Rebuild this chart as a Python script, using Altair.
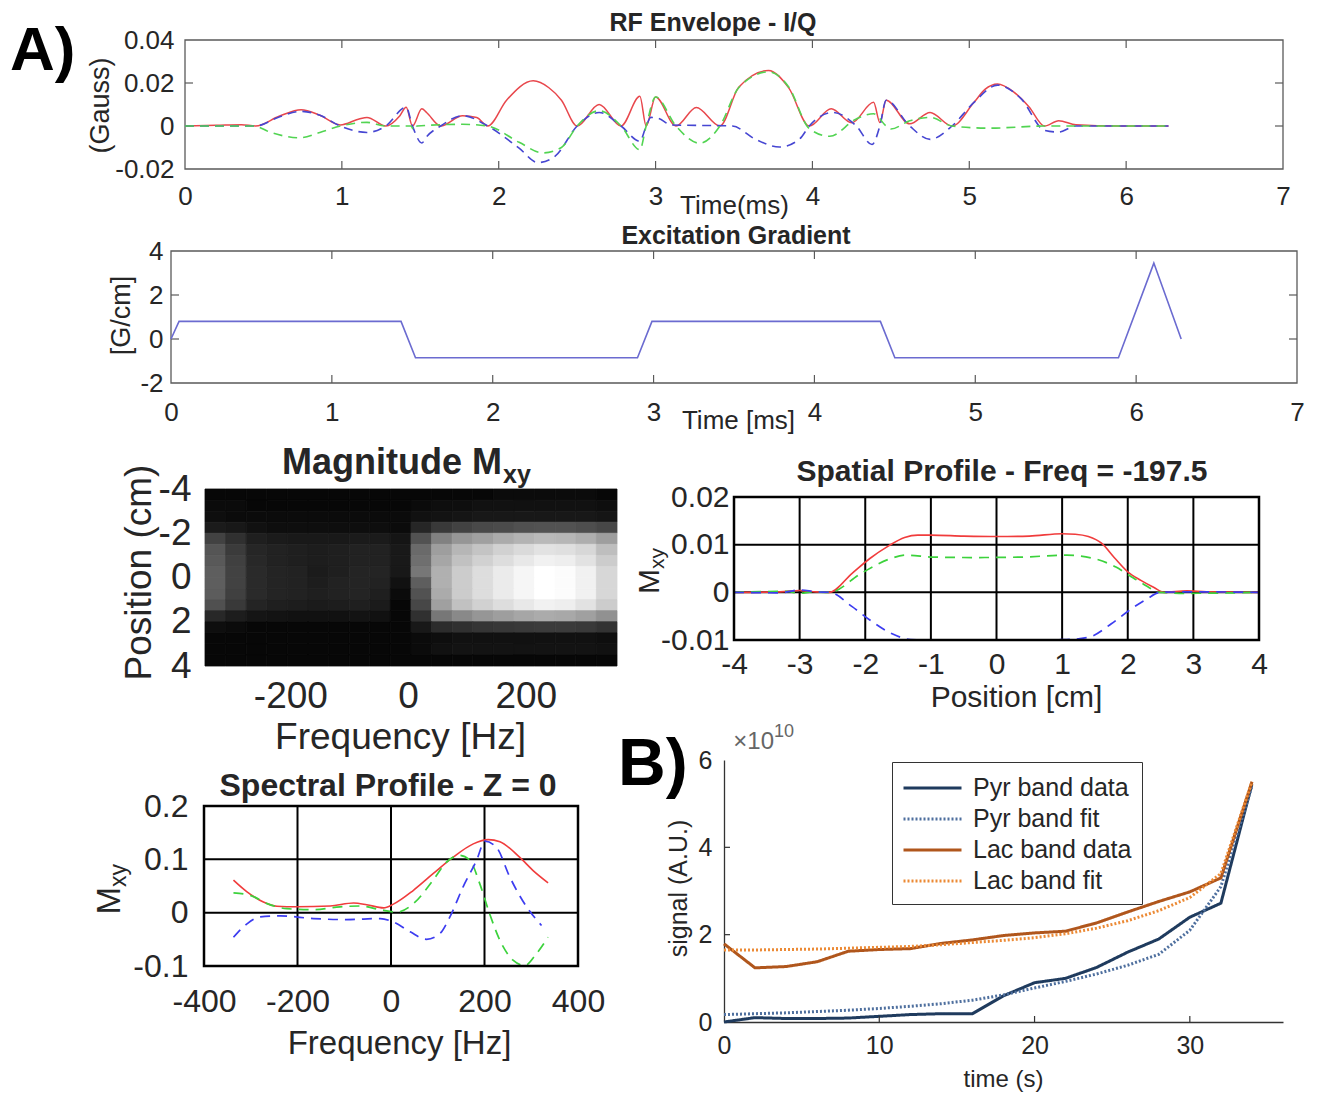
import altair as alt
import pandas as pd

FONT = "Liberation Sans"
TXT = "#262626"
W, H = 1303, 1084

# ======================= DATA =======================
# --- RF envelope (Gauss) vs time (ms) ---
RF_MAG_T = [0.00, 0.20, 0.36, 0.45, 0.60, 0.74, 0.86, 0.99, 1.11, 1.16, 1.28, 1.37, 1.41, 1.45, 1.51, 1.54,
            1.63, 1.77, 1.86, 1.93, 2.05, 2.22, 2.32, 2.40, 2.50, 2.64, 2.78, 2.90, 2.94, 3.00, 3.13, 3.26,
            3.41, 3.53, 3.72, 3.85, 3.98, 4.12, 4.25, 4.39, 4.43, 4.47, 4.62, 4.75, 4.89, 5.03, 5.10, 5.18,
            5.28, 5.38, 5.48, 5.57, 5.68, 5.95, 6.27]
RF_MAG_V = [0.0, 0.0003, 0.0006, 0.0, 0.0045, 0.0076, 0.005, 0.0005, 0.0033, 0.004, 0.0, 0.0048, 0.0087, 0.0,
            0.008, 0.0063, 0.0, 0.0048, 0.004, 0.0, 0.012, 0.021, 0.0178, 0.012, 0.0, 0.01, 0.0, 0.0138, 0.0,
            0.0135, 0.0, 0.0086, 0.0, 0.018, 0.0258, 0.0176, 0.0, 0.008, 0.0015, 0.011, 0.0016, 0.012, 0.001,
            0.0063, 0.0, 0.011, 0.017, 0.0195, 0.016, 0.009, 0.0, 0.0025, 0.0006, 0.0, 0.0]
RF_I_T = [0.00, 0.45, 0.60, 0.74, 0.86, 0.99, 1.16, 1.28, 1.41, 1.45, 1.51, 1.54, 1.63, 1.77, 1.93, 2.13,
          2.25, 2.36, 2.50, 2.64, 2.78, 2.90, 2.94, 2.97, 3.02, 3.10, 3.49, 3.63, 3.79, 3.92, 3.98, 4.13,
          4.28, 4.38, 4.43, 4.47, 4.62, 4.75, 4.89, 5.03, 5.18, 5.33, 5.48, 5.57, 5.68, 6.27]
RF_I_V = [0.0, 0.0, 0.0042, 0.0068, 0.005, 0.0, -0.003, 0.0, 0.0087, 0.0, -0.0079, -0.005, 0.0, 0.0048, 0.0,
          -0.0103, -0.017, -0.014, 0.0, 0.0063, 0.0, -0.0071, 0.0, 0.004, 0.0035, 0.0005, 0.0, -0.0059,
          -0.0098, -0.0059, 0.0, 0.0063, 0.0, -0.0086, 0.0, 0.012, 0.0, -0.0062, 0.0, 0.011, 0.019, 0.0127,
          -0.002, -0.0028, 0.0, 0.0]
RF_Q_T = [0.00, 0.44, 0.54, 0.73, 0.86, 0.99, 1.16, 1.28, 1.44, 1.46, 1.48, 1.77, 1.93, 2.13, 2.28, 2.40,
          2.50, 2.64, 2.78, 2.90, 2.94, 3.00, 3.13, 3.28, 3.41, 3.53, 3.72, 3.85, 3.98, 4.11, 4.28, 4.39,
          4.47, 4.50, 4.62, 4.75, 4.89, 5.13, 5.48, 6.27]
RF_Q_V = [0.0, 0.0, -0.0028, -0.0055, -0.003, 0.0, 0.0017, 0.0, 0.0, -0.002, 0.0, 0.0008, 0.0, -0.0076,
          -0.0125, -0.01, 0.0, 0.0071, 0.0, -0.011, 0.0, 0.0135, 0.0, -0.008, 0.0, 0.0178, 0.0252, 0.018,
          -0.0012, -0.0048, 0.0033, 0.0057, 0.0, -0.0014, 0.0024, 0.004, 0.0, -0.001, 0.0, 0.0]

# --- Excitation gradient (G/cm) vs time (ms) ---
GRAD_T = [0.00, 0.05, 1.43, 1.52, 2.90, 2.99, 4.41, 4.50, 5.89, 6.11, 6.28]
GRAD_V = [0.0, 0.8, 0.8, -0.85, -0.85, 0.8, 0.8, -0.85, -0.85, 3.45, 0.0]

# --- Magnitude Mxy image (0..100 grey level), rows = position bins (top -4 .. bottom 4) ---
HEAT_FREQ_EDGES = [-345, -310, -275, -240, -205, -170, -135, -100, -65, -30, 5, 40, 75, 110, 145, 180,
                   215, 250, 285, 320, 355]
HEAT_POS_EDGES = [-4.0, -3.5, -3.0, -2.5, -2.0, -1.5, -1.0, -0.5, 0.0, 0.5, 1.0, 1.5, 2.0, 2.5, 3.0, 3.5, 4.0]
HEAT_GRID = [
    [2, 2, 2, 2, 2, 2, 2, 2, 2, 2, 2, 2, 2, 2, 3, 3, 3, 3, 3, 2],
    [3, 3, 2, 2, 2, 2, 2, 2, 2, 2, 3, 4, 4, 5, 5, 5, 5, 5, 5, 4],
    [4, 3, 3, 3, 3, 3, 3, 3, 3, 3, 5, 6, 7, 8, 8, 8, 8, 8, 8, 7],
    [10, 8, 5, 4, 4, 4, 4, 4, 4, 3, 15, 24, 28, 31, 32, 34, 35, 35, 33, 30],
    [28, 20, 12, 10, 9, 9, 9, 10, 10, 7, 35, 54, 62, 66, 70, 73, 75, 74, 71, 65],
    [36, 25, 15, 13, 12, 11, 12, 13, 13, 9, 45, 65, 74, 79, 84, 87, 90, 89, 86, 77],
    [38, 27, 16, 13, 12, 11, 12, 13, 13, 9, 47, 68, 78, 84, 88, 92, 95, 94, 90, 82],
    [40, 28, 17, 14, 13, 10, 12, 14, 14, 8, 50, 72, 82, 88, 93, 97, 100, 99, 95, 86],
    [40, 28, 17, 14, 13, 11, 13, 14, 13, 5, 40, 72, 82, 88, 93, 97, 100, 99, 95, 86],
    [39, 27, 17, 14, 13, 12, 13, 14, 12, 3, 35, 70, 82, 88, 93, 97, 100, 99, 95, 86],
    [34, 24, 14, 12, 11, 10, 11, 12, 10, 2, 30, 66, 78, 84, 88, 92, 95, 94, 90, 82],
    [16, 11, 7, 6, 5, 5, 5, 6, 5, 2, 20, 50, 57, 62, 65, 68, 70, 69, 66, 60],
    [4, 3, 2, 2, 2, 2, 2, 2, 2, 2, 8, 18, 20, 22, 23, 24, 25, 25, 24, 21],
    [2, 2, 2, 2, 2, 2, 2, 2, 2, 2, 3, 4, 5, 5, 5, 5, 5, 5, 5, 4],
    [2, 2, 2, 2, 2, 2, 2, 2, 2, 2, 3, 5, 6, 6, 6, 6, 6, 6, 6, 5],
    [2, 2, 2, 2, 2, 2, 2, 2, 2, 2, 2, 2, 2, 2, 2, 2, 2, 2, 2, 2],
]

# --- Spatial profile (Freq = -197.5) ---
SPAT_POS_R = [-4.0, -3.3, -3.0, -2.75, -2.55, -2.2, -1.93, -1.65, -1.4, -1.2, -1.0, -0.5, 0.0, 0.5, 1.0,
              1.2, 1.4, 1.6, 1.8, 2.0, 2.2, 2.4, 2.55, 2.9, 3.2, 4.0]
SPAT_RED = [0.0, 0.0001, 0.0004, 0.0001, 0.0, 0.004, 0.0071, 0.0097, 0.0115, 0.012, 0.012, 0.0118, 0.0117,
            0.0118, 0.0123, 0.0122, 0.0117, 0.0103, 0.0072, 0.0043, 0.0025, 0.001, 0.0, 0.0003, 0.0001, 0.0]
SPAT_POS_G = [-4.0, -3.2, -3.0, -2.8, -2.55, -2.06, -1.65, -1.38, -0.97, -0.29, 0.39, 1.07, 1.48, 1.82,
              2.02, 2.22, 2.5, 2.9, 4.0]
SPAT_GREEN = [0.0, 0.0002, -0.0002, 0.0001, 0.0, 0.004, 0.0069, 0.0078, 0.0074, 0.0073, 0.0074, 0.0078,
              0.0071, 0.0053, 0.0036, 0.0019, 0.0, -0.0002, 0.0]
SPAT_POS_B = [-4.0, -3.3, -3.0, -2.75, -2.54, -2.2, -1.93, -1.59, -1.31, -0.97, 0.39, 1.07, 1.41, 1.75,
              2.02, 2.29, 2.5, 3.0, 4.0]
SPAT_BLUE = [0.0, -0.0001, 0.0005, 0.0001, 0.0, -0.003, -0.0058, -0.0087, -0.0099, -0.01, -0.01, -0.0099,
             -0.0094, -0.0066, -0.0038, -0.0014, 0.0, 0.0001, 0.0]

# --- Spectral profile (Z = 0) ---
SPEC_F_R = [-337, -308, -273, -244, -201, -130, -80, -52, -16, 5, 48, 90, 133, 176, 208, 233, 275, 304, 336]
SPEC_RED = [0.061, 0.039, 0.02, 0.012, 0.011, 0.0125, 0.018, 0.015, 0.009, 0.016, 0.042, 0.073, 0.104,
            0.129, 0.137, 0.133, 0.104, 0.079, 0.056]
SPEC_F_G = [-337, -301, -265, -223, -166, -109, -66, -23, 12, 48, 90, 119, 147, 169, 190, 211, 233, 261,
            286, 311, 336]
SPEC_GREEN = [0.037, 0.0325, 0.017, 0.0075, 0.0056, 0.011, 0.0125, 0.0056, 0.001, 0.017, 0.061, 0.095,
              0.1075, 0.098, 0.054, -0.002, -0.052, -0.089, -0.099, -0.077, -0.046]
SPEC_F_B = [-337, -308, -280, -237, -166, -95, -23, 5, 41, 76, 105, 126, 154, 183, 201, 226, 254, 290, 322]
SPEC_BLUE = [-0.046, -0.021, -0.008, -0.006, -0.011, -0.013, -0.011, -0.0175, -0.036, -0.05, -0.039,
             -0.008, 0.048, 0.098, 0.134, 0.122, 0.067, 0.011, -0.024]

# --- B) signal (x1e10 A.U.) vs time (s) ---
B_TIME = [0, 2, 4, 6, 8, 10, 12, 14, 16, 18, 20, 22, 24, 26, 28, 30, 32, 34]
PYR_DATA = [0.0, 0.1, 0.08, 0.08, 0.09, 0.13, 0.17, 0.19, 0.19, 0.6, 0.9, 1.0, 1.25, 1.6, 1.9, 2.4, 2.72, 5.45]
PYR_FIT = [0.17, 0.19, 0.21, 0.24, 0.27, 0.31, 0.36, 0.42, 0.5, 0.62, 0.78, 0.93, 1.1, 1.3, 1.55, 2.1, 3.1, 5.4]
LAC_DATA = [1.79, 1.24, 1.27, 1.38, 1.62, 1.66, 1.68, 1.8, 1.88, 1.98, 2.04, 2.08, 2.27, 2.52, 2.76, 2.98, 3.3, 5.5]
LAC_FIT = [1.65, 1.65, 1.66, 1.67, 1.69, 1.71, 1.73, 1.77, 1.82, 1.87, 1.93, 2.02, 2.15, 2.32, 2.55, 2.85, 3.4, 5.5]
B_SERIES = ["Pyr band data", "Pyr band fit", "Lac band data", "Lac band fit"]

# --- tick values / domains ---
RF_XDOM, RF_YDOM = [0, 7], [-0.02, 0.04]
RF_XT, RF_YT = [0, 1, 2, 3, 4, 5, 6, 7], [-0.02, 0, 0.02, 0.04]
GR_XDOM, GR_YDOM = [0, 7], [-2, 4]
GR_XT, GR_YT = [0, 1, 2, 3, 4, 5, 6, 7], [-2, 0, 2, 4]
HM_XDOM, HM_YDOM = [-345, 355], [-4, 4]
HM_XT, HM_YT = [-200, 0, 200], [-4, -2, 0, 2, 4]
SP_XDOM, SP_YDOM = [-4, 4], [-0.01, 0.02]
SP_XT, SP_YT = [-4, -3, -2, -1, 0, 1, 2, 3, 4], [-0.01, 0, 0.01, 0.02]
SC_XDOM, SC_YDOM = [-400, 400], [-0.1, 0.2]
SC_XT, SC_YT = [-400, -200, 0, 200, 400], [-0.1, 0, 0.1, 0.2]
B_XDOM, B_YDOM = [0, 36], [0, 6]
B_XT, B_YT = [0, 10, 20, 30], [0, 2, 4, 6]

# ======================= LAYOUT (pixel ranges of each panel) =======================
RF_XR, RF_YR = [177, 1275], [161, 32]
GR_XR, GR_YR = [163, 1289], [375, 243]
HM_XR, HM_YR = [197, 609], [481, 658]
SP_XR, SP_YR = [726, 1251], [632, 489]
SC_XR, SC_YR = [196, 570], [958, 798]
B_XR, B_YR = [716, 1275], [1014, 752]

RED, BLUE, GREEN = "#e8474c", "#4646d2", "#52d452"
RED2, BLUE2, GREEN2 = "#f03c3c", "#3c3cf0", "#3cd23c"


def scale(domain, rng):
    return alt.Scale(domain=domain, range=rng, nice=False, zero=False)


def x_axis(bottom, values, fs, pad, title, tx, ty, tfs, domain=False):
    return alt.Axis(orient="bottom", offset=bottom - H, values=values, labelExpr="'' + datum.value",
                    labelFont=FONT, labelFontSize=fs, labelColor=TXT, labelPadding=pad,
                    labelOverlap=False, labelFlush=False, ticks=False, grid=False,
                    domain=domain, domainColor="#333333", domainWidth=1.3,
                    title=title, titleFont=FONT, titleFontSize=tfs, titleFontWeight="normal",
                    titleColor=TXT, titleX=tx, titleY=ty, titleAlign="center",
                    titleBaseline="middle", titleAngle=0)


def y_axis(left, values, fs, pad, title, tx, ty, tfs, domain=False):
    return alt.Axis(orient="left", offset=-left, values=values, labelExpr="'' + datum.value",
                    labelFont=FONT, labelFontSize=fs, labelColor=TXT, labelPadding=pad,
                    labelOverlap=False, labelFlush=False, ticks=False, grid=False,
                    domain=domain, domainColor="#333333", domainWidth=1.3,
                    title=title, titleFont=FONT, titleFontSize=tfs, titleFontWeight="normal",
                    titleColor=TXT, titleX=tx, titleY=ty, titleAlign="center",
                    titleBaseline="middle", titleAngle=270)


class Panel:
    """Shared scales and axes for every layer of one panel."""

    def __init__(self, xs, ys, xa, ya):
        self.xs, self.ys, self.xa, self.ya = xs, ys, xa, ya

    def X(self, f):
        return alt.X(f, scale=self.xs, axis=self.xa)

    def Y(self, f):
        return alt.Y(f, scale=self.ys, axis=self.ya)

    def XD(self, d):
        return alt.XDatum(d, scale=self.xs, axis=self.xa)

    def YD(self, d):
        return alt.YDatum(d, scale=self.ys, axis=self.ya)

    def line(self, xv, yv, color, dash=None, width=1.5, interp="monotone"):
        df = pd.DataFrame({"x": xv, "y": yv})
        kw = dict(color=color, strokeWidth=width, interpolate=interp)
        if dash:
            kw["strokeDash"] = dash
        return alt.Chart(df).mark_line(**kw).encode(x=self.X("x:Q"), y=self.Y("y:Q"))

    def frame(self, xdom, ydom, color, width):
        df = pd.DataFrame({"x0": [xdom[0]], "x1": [xdom[1]], "y0": [ydom[0]], "y1": [ydom[1]]})
        return alt.Chart(df).mark_rect(fillOpacity=0, stroke=color, strokeWidth=width).encode(
            x=self.X("x0:Q"), x2="x1:Q", y=self.Y("y0:Q"), y2="y1:Q")

    def grid(self, xvals, yvals, xdom, ydom, color, width):
        v = alt.Chart(pd.DataFrame({"v": xvals})).mark_rule(color=color, strokeWidth=width).encode(
            x=self.X("v:Q"), y=self.YD(ydom[0]), y2=alt.Y2Datum(ydom[1]))
        h = alt.Chart(pd.DataFrame({"v": yvals})).mark_rule(color=color, strokeWidth=width).encode(
            y=self.Y("v:Q"), x=self.XD(xdom[0]), x2=alt.X2Datum(xdom[1]))
        return [v, h]

    def ticks(self, xvals, yvals, xdom, ydom, color, length, sides="lrtb"):
        size = (2 * length) ** 2
        out = []
        dx = pd.DataFrame({"v": xvals})
        dy = pd.DataFrame({"v": yvals})
        common = dict(size=size, filled=False, color=color, strokeWidth=1.2, opacity=1)
        if "b" in sides:
            out.append(alt.Chart(dx).mark_point(shape="M0,0V-1", **common).encode(
                x=self.X("v:Q"), y=self.YD(ydom[0])))
        if "t" in sides:
            out.append(alt.Chart(dx).mark_point(shape="M0,0V1", **common).encode(
                x=self.X("v:Q"), y=self.YD(ydom[1])))
        if "l" in sides:
            out.append(alt.Chart(dy).mark_point(shape="M0,0H1", **common).encode(
                y=self.Y("v:Q"), x=self.XD(xdom[0])))
        if "r" in sides:
            out.append(alt.Chart(dy).mark_point(shape="M0,0H-1", **common).encode(
                y=self.Y("v:Q"), x=self.XD(xdom[1])))
        return out


def label(text, x, y, size, weight="normal", align="center", baseline="middle", angle=0,
          color=TXT, dy=0):
    kw = dict(fontSize=size, font=FONT, fontWeight=weight, align=align, baseline=baseline, color=color)
    if angle:
        kw["angle"] = angle
    if dy:
        kw["dy"] = dy
    return alt.Chart(pd.DataFrame({"label": [text]})).mark_text(**kw).encode(
        x=alt.value(x), y=alt.value(y), text="label:N")


# ======================= PANEL: RF envelope =======================
p = Panel(scale(RF_XDOM, RF_XR), scale(RF_YDOM, RF_YR),
          x_axis(RF_YR[0], RF_XT, 26, 14, "Time(ms)", 726, 36, 26),
          y_axis(RF_XR[0], RF_YT, 26, 11, "(Gauss)", -85, 97, 27))
rf_panel = alt.layer(
    p.frame(RF_XDOM, RF_YDOM, "#5a5a5a", 1.3),
    *p.ticks(RF_XT[1:-1], RF_YT[1:-1], RF_XDOM, RF_YDOM, "#5a5a5a", 8),
    p.line(RF_MAG_T, RF_MAG_V, RED, width=1.5),
    p.line(RF_I_T, RF_I_V, BLUE, dash=[9, 6], width=1.6),
    p.line(RF_Q_T, RF_Q_V, GREEN, dash=[9, 6], width=1.6),
    label("RF Envelope - I/Q", 705, 15, 25, weight="bold"),
    label("A)", 2, 62, 62, weight="bold", align="left", baseline="alphabetic", color="#000000"),
)

# ======================= PANEL: Excitation gradient =======================
p = Panel(scale(GR_XDOM, GR_XR), scale(GR_YDOM, GR_YR),
          x_axis(GR_YR[0], GR_XT, 26, 16, "Time  [ms]", 730, 37, 26),
          y_axis(GR_XR[0], GR_YT, 26, 8, "[G/cm]", -50, 307, 27))
grad_panel = alt.layer(
    p.frame(GR_XDOM, GR_YDOM, "#5a5a5a", 1.3),
    *p.ticks(GR_XT[1:-1], GR_YT[1:-1], GR_XDOM, GR_YDOM, "#5a5a5a", 8),
    p.line(GRAD_T, GRAD_V, "#6b6bd0", width=1.6, interp="linear"),
    label("Excitation Gradient", 728, 228, 25, weight="bold"),
)

# ======================= PANEL: Magnitude Mxy image =======================
p = Panel(scale(HM_XDOM, HM_XR), scale(HM_YDOM, HM_YR),
          x_axis(HM_YR[1], HM_XT, 37, 12, "Frequency [Hz]", 392, 71, 37),
          y_axis(HM_XR[0], HM_YT, 37, 14, "Position (cm)", -66, 564, 37))
heat_rows = []
for r in range(len(HEAT_POS_EDGES) - 1):
    for c in range(len(HEAT_FREQ_EDGES) - 1):
        heat_rows.append({"f0": HEAT_FREQ_EDGES[c], "f1": HEAT_FREQ_EDGES[c + 1],
                          "p0": HEAT_POS_EDGES[r], "p1": HEAT_POS_EDGES[r + 1],
                          "m": HEAT_GRID[r][c]})
gray = alt.Scale(domain=[0, 100], range=["#000000", "#ffffff"])
heat_panel = alt.layer(
    alt.Chart(pd.DataFrame(heat_rows)).mark_rect(strokeWidth=0.8).encode(
        x=p.X("f0:Q"), x2="f1:Q", y=p.Y("p0:Q"), y2="p1:Q",
        color=alt.Color("m:Q", scale=gray, legend=None),
        stroke=alt.Stroke("m:Q", scale=gray, legend=None),
    ),
    label("Magnitude M", 494, 466, 36, weight="bold", align="right", baseline="alphabetic"),
    label("xy", 495, 475, 25, weight="bold", align="left", baseline="alphabetic"),
)

# ======================= PANEL: Spatial profile =======================
p = Panel(scale(SP_XDOM, SP_XR), scale(SP_YDOM, SP_YR),
          x_axis(SP_YR[0], SP_XT, 30, 9, "Position [cm]", 1008, 57, 30),
          y_axis(SP_XR[0], SP_YT, 30, 5, None, 0, 0, 30))
spat_panel = alt.layer(
    *p.grid(SP_XT[1:-1], SP_YT[1:-1], SP_XDOM, SP_YDOM, "#000000", 2),
    p.line(SPAT_POS_R, SPAT_RED, RED2, width=1.6),
    p.line(SPAT_POS_G, SPAT_GREEN, GREEN2, dash=[10, 7], width=1.7),
    p.line(SPAT_POS_B, SPAT_BLUE, BLUE2, dash=[10, 7], width=1.7),
    p.frame(SP_XDOM, SP_YDOM, "#000000", 2.5),
    label("Spatial Profile - Freq = -197.5", 994, 464, 30, weight="bold"),
    label("M", 642, 561, 30, align="right", angle=270),
    label("xy", 642, 561, 21, align="left", angle=270, dy=8),
)

# ======================= PANEL: Spectral profile =======================
p = Panel(scale(SC_XDOM, SC_XR), scale(SC_YDOM, SC_YR),
          x_axis(SC_YR[0], SC_XT, 32, 20, "Frequency [Hz]", 391, 77, 33),
          y_axis(SC_XR[0], SC_YT, 32, 16, None, 0, 0, 32))
spec_panel = alt.layer(
    *p.grid(SC_XT[1:-1], SC_YT[1:-1], SC_XDOM, SC_YDOM, "#000000", 2),
    p.line(SPEC_F_R, SPEC_RED, RED2, width=1.6),
    p.line(SPEC_F_G, SPEC_GREEN, GREEN2, dash=[10, 7], width=1.7),
    p.line(SPEC_F_B, SPEC_BLUE, BLUE2, dash=[10, 7], width=1.7),
    p.frame(SC_XDOM, SC_YDOM, "#000000", 2.5),
    label("Spectral Profile  - Z = 0", 380, 778, 32, weight="bold"),
    label("M", 102, 879, 33, align="right", angle=270),
    label("xy", 102, 879, 23, align="left", angle=270, dy=9),
)

# ======================= PANEL B: signal vs time =======================
p = Panel(scale(B_XDOM, B_XR), scale(B_YDOM, B_YR),
          x_axis(B_YR[0], B_XT, 25, 11, "time (s)", 995, 57, 24, domain=True),
          y_axis(B_XR[0], B_YT, 25, 12, "signal (A.U.)", -46, 880, 25, domain=True))
b_rows = []
for name, vals in zip(B_SERIES, [PYR_DATA, PYR_FIT, LAC_DATA, LAC_FIT]):
    for t, v in zip(B_TIME, vals):
        b_rows.append({"t": t, "v": v, "series": name})
b_leg = alt.Legend(title=None, orient="none", legendX=884, legendY=754, symbolType="M-1,0H3",
                   symbolSize=841, symbolStrokeWidth=3, labelFontSize=25, labelFont=FONT,
                   labelColor=TXT, labelOffset=39, padding=10, rowPadding=2, strokeColor="#333333",
                   fillColor="#ffffff", labelLimit=400)
b_panel = alt.layer(
    alt.Chart(pd.DataFrame(b_rows)).mark_line(strokeWidth=3).encode(
        x=p.X("t:Q"), y=p.Y("v:Q"),
        color=alt.Color("series:N", scale=alt.Scale(domain=B_SERIES,
                                                     range=["#1f3b5e", "#4e6f9e", "#b0561c", "#ec8a35"]),
                        legend=b_leg),
        strokeDash=alt.StrokeDash("series:N", scale=alt.Scale(domain=B_SERIES,
                                                              range=[[1, 0], [2, 2], [1, 0], [2, 2]]),
                                  legend=b_leg),
    ),
    *p.ticks(B_XT[1:], B_YT[1:-1], B_XDOM, B_YDOM, "#333333", 6, sides="lb"),
    label("×10", 766, 734, 24, align="right", color="#666666"),
    label("10", 766, 724, 18, align="left", color="#666666"),
    label("B)", 610, 777, 66, weight="bold", align="left", baseline="alphabetic", color="#000000"),
)

chart = alt.layer(rf_panel, grad_panel, heat_panel, spat_panel, spec_panel, b_panel).resolve_scale(
    x="independent", y="independent", color="independent", stroke="independent",
    strokeDash="independent"
).resolve_axis(x="independent", y="independent").properties(
    width=W, height=H, padding=0, autosize=alt.AutoSizeParams(type="none"), background="white"
).configure_view(strokeWidth=0)

chart.save("out.html", embed_options={"renderer": "svg", "actions": False})
